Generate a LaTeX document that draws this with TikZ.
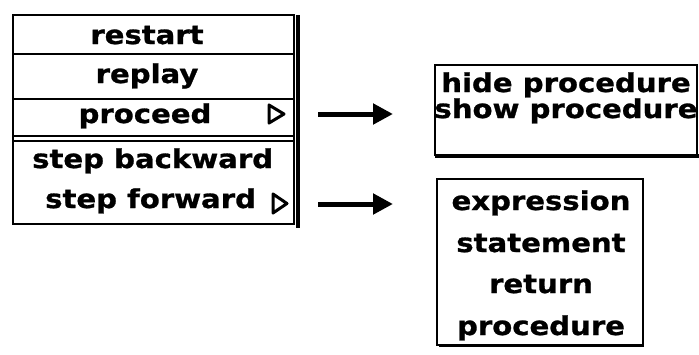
\documentclass[tikz,border=0pt]{standalone}
\usepackage{fontspec}
\newfontfamily\menufont{DejaVu Sans}[FakeStretch=1.12,FakeBold=1]
\usetikzlibrary{arrows.meta}

\tikzset{
  item/.style={inner sep=0pt, anchor=base, font=\menufont\bfseries\fontsize{26bp}{26bp}\selectfont},
  frame/.style={line width=1.6bp, line cap=rect},
  shadow/.style={line width=4bp, line cap=rect},
  submark/.style={line width=3bp, line join=round},
  goes/.style={line width=5bp, -{Triangle[length=20bp,width=20bp]}}
}

\begin{document}
\begin{tikzpicture}[x=1bp,y=-1bp]
\useasboundingbox (0,0) rectangle (699,354);

% main command menu
\draw[frame] (13,15) -- (294,15) -- (294,224) -- (13,224) -- cycle;
\draw[shadow] (298,17) -- (298,226);
\draw[frame] (13,54) -- (294,54);
\draw[frame] (13,99) -- (294,99);
\draw[frame] (13,136) -- (294,136);
\draw[frame] (13,141) -- (294,141);

\node[item] (restart) at (147,44) {restart};
\node[item] (replay) at (147,83) {replay};
\node[item] (proceed) at (145,123) {proceed};
\node[item, anchor=base west] (back) at (32,168) {step backward};
\node[item, anchor=base west] (fwd) at (45,208) {step forward};

% submenu markers
\draw[submark] (269,105) -- (284,114) -- (269,123) -- cycle;
\draw[submark] (273,194) -- (287,203.5) -- (273,213) -- cycle;

% arrows towards the submenus
\coordinate (p1) at (318,114);
\coordinate (q1) at (393,114);
\coordinate (p2) at (318,204);
\coordinate (q2) at (393,204);
\draw[goes] (p1) -- (q1);
\draw[goes] (p2) -- (q2);

% submenu of proceed
\draw[frame] (435,65) rectangle (697,155);
\draw[shadow] (437,156) -- (697,156);
\node[item] (hide) at (566,92) {hide procedure};
\node[item] (show) at (566,118) {show procedure};

% submenu of step forward
\draw[frame] (437,179) rectangle (643,345);
\draw[line width=2.6bp] (643,181) -- (643,346) -- (439,346);
\node[item] (expr) at (541,210) {expression};
\node[item] (stmt) at (541,252) {statement};
\node[item] (ret) at (541,293) {return};
\node[item] (proc) at (541,335) {procedure};
\end{tikzpicture}
\end{document}
